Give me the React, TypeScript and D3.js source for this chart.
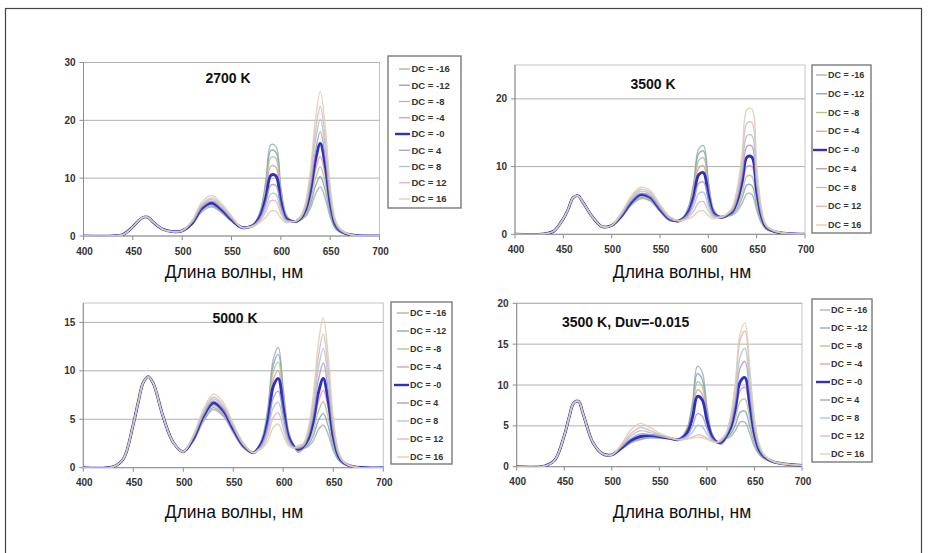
import React from "react";
import * as d3 from "d3";

// ---------- DATA ----------
const wavelengths = [400, 430, 440, 450, 455, 460, 465, 470, 480, 490, 500, 510, 520, 530, 540, 550, 560, 570, 575, 580, 585, 590, 595, 600, 605, 610, 615, 620, 625, 630, 635, 640, 645, 650, 655, 660, 670, 700];
const dcLabels = ["DC = -16", "DC = -12", "DC = -8", "DC = -4", "DC = -0", "DC = 4", "DC = 8", "DC = 12", "DC = 16"];
const xTicks = [400, 450, 500, 550, 600, 650, 700];
const xTitle = "Длина волны, нм";
const titles = ["2700 K", "3500 K", "5000 K", "3500 K, Duv=-0.015"];
const yMaxes = [30, 25, 17, 20];
const yTicks2700 = [0, 10, 20, 30];
const yTicks3500 = [0, 10, 20];
const yTicks5000 = [0, 5, 10, 15];
const yTicksDuv = [0, 5, 10, 15, 20];

const blue2700 = [0, 0.02, 0.25, 1.6, 2.5, 3.2, 3.25, 2.5, 1.2, 0.75, 0.9];
const spd2700 = [
  [...blue2700, 1.95, 4.2, 5.0, 4.0, 2.5, 1.5, 1.8, 2.65, 4.8, 9.8, 15.8, 15.5, 8.4, 3.9, 2.7, 2.4, 2.75, 3.35, 4.8, 7.2, 8.5, 6.5, 3.3, 1.3, 0.65, 0.18, 0],
  [...blue2700, 2.0, 4.4, 5.2, 4.2, 2.6, 1.5, 1.75, 2.6, 4.6, 9.3, 14.8, 14.5, 7.9, 3.7, 2.65, 2.4, 2.8, 3.6, 5.5, 8.6, 10.3, 7.9, 3.9, 1.5, 0.7, 0.19, 0],
  [...blue2700, 2.1, 4.5, 5.4, 4.3, 2.7, 1.5, 1.7, 2.5, 4.4, 8.6, 13.6, 13.4, 7.4, 3.6, 2.65, 2.45, 2.9, 3.9, 6.2, 9.9, 12.0, 9.2, 4.4, 1.7, 0.8, 0.2, 0],
  [...blue2700, 2.15, 4.6, 5.5, 4.4, 2.75, 1.5, 1.7, 2.4, 4.1, 7.7, 12.1, 11.9, 6.7, 3.35, 2.6, 2.45, 3.0, 4.1, 6.9, 11.3, 13.8, 10.5, 5.0, 1.9, 0.85, 0.21, 0],
  [...blue2700, 2.2, 4.8, 5.7, 4.55, 2.85, 1.5, 1.65, 2.3, 3.8, 6.8, 10.5, 10.4, 6.0, 3.1, 2.6, 2.5, 3.05, 4.5, 7.8, 13.0, 16.0, 12.2, 5.8, 2.1, 0.95, 0.22, 0],
  [...blue2700, 2.35, 5.0, 6.0, 4.8, 3.0, 1.5, 1.65, 2.2, 3.4, 5.9, 8.8, 8.7, 5.2, 2.9, 2.55, 2.5, 3.1, 4.8, 8.6, 14.6, 18.0, 13.7, 6.4, 2.3, 1.0, 0.23, 0],
  [...blue2700, 2.45, 5.3, 6.3, 5.0, 3.15, 1.5, 1.6, 2.1, 3.1, 5.0, 7.3, 7.2, 4.5, 2.7, 2.5, 2.55, 3.2, 5.1, 9.5, 16.3, 20.2, 15.3, 7.1, 2.5, 1.1, 0.24, 0],
  [...blue2700, 2.55, 5.5, 6.6, 5.3, 3.3, 1.5, 1.6, 2.0, 2.8, 4.3, 6.1, 6.0, 3.9, 2.55, 2.5, 2.55, 3.3, 5.4, 10.4, 18.0, 22.4, 17.0, 7.9, 2.7, 1.2, 0.25, 0],
  [...blue2700, 2.75, 5.9, 7.0, 5.6, 3.5, 1.55, 1.6, 1.9, 2.5, 3.3, 4.3, 4.3, 3.1, 2.3, 2.45, 2.6, 3.4, 5.8, 11.4, 20.0, 25.0, 18.9, 8.7, 3.0, 1.3, 0.26, 0],
];

const blue3500 = [0, 0.05, 0.45, 2.3, 3.7, 5.4, 5.7, 4.8, 2.6, 1.15, 1.3];
const spd3500 = [
  [...blue3500, 2.45, 4.25, 5.25, 4.9, 3.35, 2.0, 2.1, 2.7, 4.3, 7.7, 12.6, 13.1, 7.9, 3.8, 2.75, 2.5, 2.7, 2.85, 3.45, 4.6, 6.0, 5.9, 3.55, 1.65, 0.75, 0.3, 0],
  [...blue3500, 2.55, 4.4, 5.45, 5.05, 3.45, 2.1, 2.05, 2.65, 4.1, 7.3, 11.9, 12.3, 7.5, 3.7, 2.7, 2.5, 2.75, 3.0, 3.85, 5.4, 7.3, 7.2, 4.25, 1.9, 0.8, 0.3, 0],
  [...blue3500, 2.6, 4.5, 5.55, 5.15, 3.5, 2.15, 2.05, 2.6, 3.9, 6.8, 10.9, 11.3, 7.0, 3.5, 2.7, 2.5, 2.8, 3.1, 4.2, 6.15, 8.6, 8.55, 4.95, 2.1, 0.9, 0.3, 0],
  [...blue3500, 2.65, 4.65, 5.75, 5.35, 3.65, 2.2, 2.0, 2.5, 3.7, 6.2, 9.8, 10.1, 6.4, 3.4, 2.65, 2.5, 2.85, 3.25, 4.6, 7.0, 10.0, 10.0, 5.7, 2.4, 1.0, 0.35, 0],
  [...blue3500, 2.7, 4.7, 5.85, 5.45, 3.7, 2.25, 2.0, 2.45, 3.45, 5.65, 8.8, 9.1, 5.8, 3.2, 2.6, 2.55, 2.9, 3.4, 5.0, 7.85, 11.4, 11.4, 6.45, 2.65, 1.05, 0.35, 0],
  [...blue3500, 2.8, 4.9, 6.05, 5.6, 3.85, 2.3, 2.0, 2.35, 3.2, 4.95, 7.5, 7.7, 5.1, 3.0, 2.6, 2.55, 2.95, 3.55, 5.4, 8.8, 13.0, 13.0, 7.3, 2.9, 1.15, 0.35, 0],
  [...blue3500, 2.95, 5.1, 6.35, 5.9, 4.05, 2.4, 2.0, 2.25, 2.85, 4.15, 6.0, 6.2, 4.2, 2.75, 2.5, 2.6, 3.0, 3.7, 5.85, 9.75, 14.55, 14.6, 8.15, 3.2, 1.2, 0.4, 0],
  [...blue3500, 3.1, 5.35, 6.65, 6.15, 4.2, 2.55, 2.0, 2.15, 2.6, 3.45, 4.7, 4.8, 3.5, 2.55, 2.5, 2.6, 3.05, 3.9, 6.4, 10.9, 16.4, 16.5, 9.15, 3.55, 1.3, 0.4, 0],
  [...blue3500, 3.2, 5.6, 6.95, 6.45, 4.4, 2.65, 2.0, 2.1, 2.3, 2.75, 3.4, 3.45, 2.8, 2.3, 2.45, 2.65, 3.1, 4.05, 6.9, 12.05, 18.4, 18.5, 10.2, 3.9, 1.4, 0.45, 0],
];

const blue5000 = [0, 0.1, 0.9, 4.5, 6.8, 8.8, 9.4, 8.7, 5.2, 2.6, 1.65];
const spd5000 = [
  [...blue5000, 2.7, 4.75, 6.0, 5.3, 3.6, 2.05, 1.55, 2.15, 3.45, 6.5, 11.2, 12.4, 8.1, 3.9, 2.4, 1.6, 1.95, 2.2, 2.8, 3.9, 4.4, 3.4, 1.75, 0.8, 0.4, 0.1, 0],
  [...blue5000, 2.8, 4.9, 6.2, 5.45, 3.7, 2.1, 1.55, 2.1, 3.35, 6.2, 10.6, 11.7, 7.7, 3.75, 2.35, 1.65, 2.0, 2.4, 3.3, 4.85, 5.6, 4.25, 2.1, 0.9, 0.4, 0.1, 0],
  [...blue5000, 2.9, 5.05, 6.4, 5.6, 3.85, 2.2, 1.55, 2.05, 3.2, 5.8, 9.9, 10.9, 7.2, 3.6, 2.3, 1.7, 2.05, 2.6, 3.8, 5.8, 6.8, 5.1, 2.5, 1.0, 0.45, 0.1, 0],
  [...blue5000, 2.95, 5.15, 6.5, 5.7, 3.9, 2.2, 1.55, 2.0, 3.05, 5.4, 9.1, 10.0, 6.7, 3.4, 2.3, 1.8, 2.1, 2.8, 4.3, 6.75, 8.0, 6.0, 2.85, 1.15, 0.5, 0.1, 0],
  [...blue5000, 3.0, 5.3, 6.7, 5.9, 4.0, 2.3, 1.55, 2.0, 2.9, 5.1, 8.4, 9.2, 6.2, 3.25, 2.25, 1.9, 2.2, 3.0, 4.8, 7.7, 9.2, 6.85, 3.2, 1.25, 0.55, 0.1, 0],
  [...blue5000, 3.1, 5.45, 6.9, 6.05, 4.15, 2.35, 1.55, 1.9, 2.7, 4.5, 7.2, 7.9, 5.4, 3.0, 2.15, 2.0, 2.25, 3.3, 5.5, 9.0, 10.8, 8.0, 3.7, 1.4, 0.6, 0.1, 0],
  [...blue5000, 3.2, 5.6, 7.1, 6.25, 4.25, 2.4, 1.55, 1.85, 2.5, 4.0, 6.2, 6.75, 4.7, 2.75, 2.1, 2.1, 2.35, 3.55, 6.1, 10.2, 12.3, 9.1, 4.15, 1.5, 0.6, 0.1, 0],
  [...blue5000, 3.3, 5.75, 7.3, 6.4, 4.4, 2.5, 1.55, 1.8, 2.3, 3.45, 5.2, 5.65, 4.05, 2.5, 2.05, 2.2, 2.4, 3.8, 6.8, 11.4, 13.8, 10.15, 4.6, 1.65, 0.65, 0.1, 0],
  [...blue5000, 3.4, 6.0, 7.6, 6.7, 4.55, 2.6, 1.55, 1.75, 2.1, 2.9, 4.15, 4.5, 3.35, 2.3, 2.0, 2.3, 2.5, 4.1, 7.5, 12.75, 15.5, 11.4, 5.1, 1.8, 0.7, 0.1, 0],
];

const blueDuv = [0, 0.1, 0.8, 3.8, 6.0, 7.8, 8.0, 6.4, 3.0, 1.6, 1.45];
const spdDuv = [
  [...blueDuv, 2.1, 2.9, 3.3, 3.5, 3.5, 3.4, 3.4, 3.85, 5.0, 8.0, 12.3, 11.6, 7.4, 4.2, 3.15, 2.7, 3.4, 3.7, 4.45, 5.45, 5.45, 4.05, 2.45, 1.5, 1.0, 0.55, 0.15],
  [...blueDuv, 2.15, 3.0, 3.4, 3.6, 3.55, 3.45, 3.4, 3.8, 4.8, 7.5, 11.4, 10.7, 6.9, 4.1, 3.1, 2.75, 3.45, 4.0, 5.1, 6.65, 6.8, 4.95, 2.85, 1.65, 1.1, 0.55, 0.15],
  [...blueDuv, 2.2, 3.05, 3.5, 3.65, 3.6, 3.45, 3.35, 3.75, 4.65, 7.0, 10.4, 9.8, 6.5, 4.0, 3.1, 2.8, 3.55, 4.3, 5.85, 8.0, 8.3, 5.95, 3.25, 1.8, 1.15, 0.55, 0.15],
  [...blueDuv, 2.25, 3.1, 3.6, 3.7, 3.65, 3.5, 3.3, 3.65, 4.45, 6.5, 9.4, 8.9, 6.0, 3.85, 3.05, 2.9, 3.65, 4.6, 6.55, 9.3, 9.75, 6.9, 3.65, 1.95, 1.2, 0.55, 0.15],
  [...blueDuv, 2.3, 3.2, 3.7, 3.8, 3.7, 3.5, 3.3, 3.6, 4.3, 6.1, 8.6, 8.2, 5.7, 3.75, 3.05, 3.0, 3.7, 4.8, 7.15, 10.4, 10.9, 7.7, 4.0, 2.05, 1.25, 0.6, 0.15],
  [...blueDuv, 2.4, 3.45, 4.0, 3.95, 3.75, 3.5, 3.3, 3.5, 3.9, 5.0, 6.5, 6.2, 4.7, 3.5, 3.0, 3.1, 3.85, 5.2, 8.1, 12.1, 12.9, 9.0, 4.55, 2.25, 1.3, 0.6, 0.15],
  [...blueDuv, 2.5, 3.75, 4.4, 4.2, 3.85, 3.55, 3.3, 3.4, 3.65, 4.25, 5.05, 4.9, 4.0, 3.3, 3.0, 3.2, 3.95, 5.55, 8.85, 13.5, 14.5, 10.0, 5.0, 2.4, 1.4, 0.6, 0.15],
  [...blueDuv, 2.6, 4.05, 4.8, 4.45, 3.95, 3.6, 3.3, 3.35, 3.45, 3.65, 3.9, 3.8, 3.5, 3.15, 2.95, 3.3, 4.05, 6.0, 9.9, 15.5, 16.6, 11.45, 5.6, 2.65, 1.5, 0.65, 0.15],
  [...blueDuv, 2.75, 4.5, 5.3, 4.8, 4.1, 3.65, 3.3, 3.3, 3.4, 3.5, 3.6, 3.55, 3.35, 3.1, 2.95, 3.4, 4.1, 6.2, 10.4, 16.35, 17.6, 12.1, 5.9, 2.75, 1.5, 0.65, 0.15],
];

// ---------- STYLE / LAYOUT ----------
const seriesColors = ["#9fb0b0", "#7fa4bc", "#b4c47c", "#e49aa0", "#3030c0", "#a49cc4", "#a8c4dc", "#e0b4b8", "#d8d0b0"];
const FONT = "'Liberation Sans', Arial, sans-serif";

const layouts = [
  { x0: 83.5, x1: 379.5, y0: 236, y1: 62.5, title: { x: 228, y: 83, anchor: "middle" },
    legend: { x: 388, y: 56, w: 73, h: 152, first: 69, step: 16.25, lx0: 399, lx1: 410, bx0: 395, tx: 411.5, fs: 9.5 },
    xt: { x: 234, y: 278 } },
  { x0: 515, x1: 805, y0: 234.3, y1: 65, title: { x: 653, y: 89, anchor: "middle" },
    legend: { x: 812, y: 65, w: 59, h: 168, first: 75, step: 18.75, lx0: 816, lx1: 827, bx0: 813, tx: 828, fs: 9 },
    xt: { x: 682, y: 278 } },
  { x0: 83.3, x1: 383.3, y0: 467.7, y1: 303, title: { x: 235, y: 323, anchor: "middle" },
    legend: { x: 391, y: 302, w: 61, h: 162, first: 313, step: 18, lx0: 397, lx1: 409, bx0: 394, tx: 410, fs: 9 },
    xt: { x: 234, y: 518 } },
  { x0: 516.7, x1: 802, y0: 466.7, y1: 303.3, title: { x: 562, y: 327, anchor: "start" },
    legend: { x: 812, y: 299, w: 60, h: 163, first: 310, step: 18, lx0: 820, lx1: 830, bx0: 816, tx: 831, fs: 9 },
    xt: { x: 682, y: 518 } },
];

function Panel({ data, title, yMax, yTicks, L, idx }) {
  const x = d3.scaleLinear().domain([400, 700]).range([L.x0, L.x1]);
  const y = d3.scaleLinear().domain([0, yMax]).range([L.y0, L.y1]);
  const line = d3
    .line<number>()
    .x((_, i) => x(wavelengths[i]))
    .y((d) => y(d))
    .curve(d3.curveCatmullRom.alpha(0.5));
  const clipId = `clip${idx}`;
  const lg = L.legend;
  return (
    <g>
      <defs>
        <clipPath id={clipId}>
          <rect x={L.x0} y={L.y1 - 1} width={L.x1 - L.x0 + 1} height={L.y0 - L.y1 + 1} />
        </clipPath>
      </defs>
      <rect x={L.x0} y={L.y1} width={L.x1 - L.x0} height={L.y0 - L.y1} fill="#fff" stroke="#c4c4c4" strokeWidth={1} />
      {yTicks.filter((t) => t > 0).map((t) => (
        <line key={t} x1={L.x0} x2={L.x1} y1={y(t)} y2={y(t)} stroke="#b0b0b0" strokeWidth={1} />
      ))}
      <line x1={L.x0} x2={L.x0} y1={L.y1} y2={L.y0} stroke="#8c8c8c" strokeWidth={1} />
      <line x1={L.x0} x2={L.x1} y1={L.y0} y2={L.y0} stroke="#8c8c8c" strokeWidth={1} />
      {yTicks.map((t) => (
        <g key={t}>
          <line x1={L.x0 - 4} x2={L.x0} y1={y(t)} y2={y(t)} stroke="#8c8c8c" />
          <text x={L.x0 - 8} y={y(t)} dy="0.35em" textAnchor="end" fontFamily={FONT} fontSize={10} fontWeight="bold" fill="#333">
            {t}
          </text>
        </g>
      ))}
      {xTicks.map((t) => (
        <g key={t}>
          <line x1={x(t)} x2={x(t)} y1={L.y0} y2={L.y0 + 4} stroke="#8c8c8c" />
          <text x={x(t) + 1} y={L.y0 + 18.5} textAnchor="middle" fontFamily={FONT} fontSize={10} fontWeight="bold" fill="#333">
            {t}
          </text>
        </g>
      ))}
      <g clipPath={`url(#${clipId})`}>
        {data.map((row, i) => (
          <path
            key={i}
            d={line(row) || ""}
            fill="none"
            stroke={seriesColors[i]}
            strokeWidth={i === 4 ? 2.9 : 1.4}
            strokeOpacity={i === 4 ? 1 : 0.85}
            strokeLinejoin="round"
          />
        ))}
      </g>
      <text x={L.title.x} y={L.title.y} textAnchor={L.title.anchor} fontFamily={FONT} fontSize={14} fontWeight="bold" fill="#111">
        {title}
      </text>
      <rect x={lg.x} y={lg.y} width={lg.w} height={lg.h} fill="#fff" stroke="#7a7a7a" strokeWidth={1.4} />
      {dcLabels.map((lab, i) => {
        const yy = lg.first + i * lg.step;
        return (
          <g key={lab}>
            <line
              x1={i === 4 ? lg.bx0 : lg.lx0}
              x2={lg.lx1}
              y1={yy}
              y2={yy}
              stroke={seriesColors[i]}
              strokeWidth={i === 4 ? 2.4 : 1.3}
            />
            <text x={lg.tx} y={yy} dy="0.35em" fontFamily={FONT} fontSize={lg.fs} fontWeight="bold" fill="#333">
              {lab}
            </text>
          </g>
        );
      })}
      <text x={L.xt.x} y={L.xt.y} textAnchor="middle" fontFamily={FONT} fontSize={17.5} fill="#111">
        {xTitle}
      </text>
    </g>
  );
}

export default function App() {
  const datasets = [spd2700, spd3500, spd5000, spdDuv];
  const ticks = [yTicks2700, yTicks3500, yTicks5000, yTicksDuv];
  const bad = datasets.some((ds) => ds.some((r) => r.length !== wavelengths.length));
  return (
    <svg width={933} height={553} style={{ position: "absolute", left: 0, top: 0, background: "#fff" }}>
      <rect x={0} y={0} width={933} height={553} fill="#fff" />
      <rect x={5.5} y={8.5} width={916} height={600} fill="none" stroke="#444" strokeWidth={1.2} />
      {datasets.map((ds, i) => (
        <Panel key={i} idx={i} data={ds} title={titles[i]} yMax={yMaxes[i]} yTicks={ticks[i]} L={layouts[i]} />
      ))}
      {bad && (
        <text x={400} y={30} fill="red" fontSize={14}>
          LENGTH MISMATCH
        </text>
      )}
    </svg>
  );
}
